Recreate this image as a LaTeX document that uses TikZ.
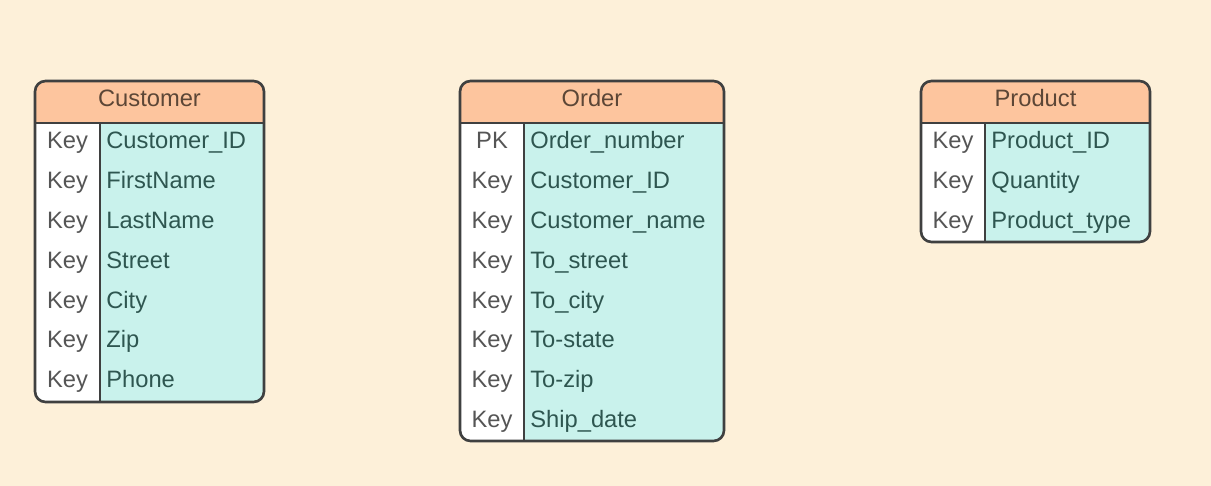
\documentclass[tikz,border=0pt]{standalone}
\usepackage{fontspec}
\setmainfont{Liberation Sans}
\definecolor{paper}{HTML}{FDF0D9}
\definecolor{hdrfill}{HTML}{FDC59E}
\definecolor{bodyfill}{HTML}{C9F2EC}
\definecolor{edge}{HTML}{3F4040}
\definecolor{hdrtext}{HTML}{5C4636}
\definecolor{fieldtext}{HTML}{2E5650}
\definecolor{keytext}{HTML}{555555}

\begin{document}
\begin{tikzpicture}[x=0.02cm, y=-0.02cm, line join=round,
  every node/.style={font=\fontsize{13.5}{16}\selectfont, inner sep=0pt}]
\tikzstyle{border}=[draw=edge, line width=1.5pt]
\tikzstyle{title}=[anchor=base, text=hdrtext]
\tikzstyle{key}=[anchor=base, text=keytext]
\tikzstyle{field}=[anchor=base west, text=fieldtext]

\fill[paper] (0,0) rectangle (1211,486);
\useasboundingbox (0,0) rectangle (1211,486);

% Customer
\begin{scope}
\clip[rounded corners=6] (35,81) rectangle (264,402);
\fill[hdrfill] (35,81) rectangle (264,123);
\fill[white] (35,123) rectangle (100,402);
\fill[bodyfill] (100,123) rectangle (264,402);
\end{scope}
\draw[border, rounded corners=6] (35,81) rectangle (264,402);
\draw[border] (35,123) -- (264,123) (100,123) -- (100,402);
\node[title] (customer) at (149.5,107) {Customer};
\foreach \k/\f [count=\i] in {Key/Customer\_ID, Key/FirstName, Key/LastName,
    Key/Street, Key/City, Key/Zip, Key/Phone} {
  \node[key] (customer-k\i) at (67.5,{109.2+39.8*\i}) {\k};
  \node[field] (customer-f\i) at (106,{109.2+39.8*\i}) {\f};
}

% Order
\begin{scope}
\clip[rounded corners=6] (460,81) rectangle (724,441);
\fill[hdrfill] (460,81) rectangle (724,123);
\fill[white] (460,123) rectangle (524,441);
\fill[bodyfill] (524,123) rectangle (724,441);
\end{scope}
\draw[border, rounded corners=6] (460,81) rectangle (724,441);
\draw[border] (460,123) -- (724,123) (524,123) -- (524,441);
\node[title] (order) at (592,107) {Order};
\foreach \k/\f [count=\i] in {PK/Order\_number, Key/Customer\_ID, Key/Customer\_name,
    Key/To\_street, Key/To\_city, Key/To-state, Key/To-zip, Key/Ship\_date} {
  \node[key] (order-k\i) at (492,{109.2+39.8*\i}) {\k};
  \node[field] (order-f\i) at (530,{109.2+39.8*\i}) {\f};
}

% Product
\begin{scope}
\clip[rounded corners=6] (921,81) rectangle (1150,242);
\fill[hdrfill] (921,81) rectangle (1150,123);
\fill[white] (921,123) rectangle (985,242);
\fill[bodyfill] (985,123) rectangle (1150,242);
\end{scope}
\draw[border, rounded corners=6] (921,81) rectangle (1150,242);
\draw[border] (921,123) -- (1150,123) (985,123) -- (985,242);
\node[title] (product) at (1035.5,107) {Product};
\foreach \k/\f [count=\i] in {Key/Product\_ID, Key/Quantity, Key/Product\_type} {
  \node[key] (product-k\i) at (953,{109.2+39.8*\i}) {\k};
  \node[field] (product-f\i) at (991,{109.2+39.8*\i}) {\f};
}
\end{tikzpicture}
\end{document}
